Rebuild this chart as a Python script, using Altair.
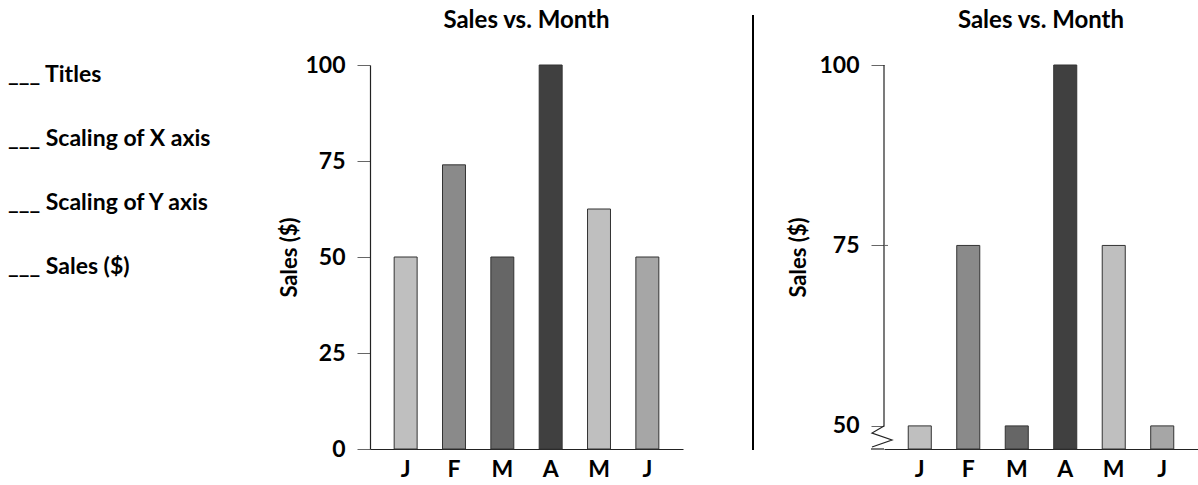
import altair as alt
import pandas as pd

# ---- data ----
months = ["Jan", "Feb", "Mar", "Apr", "May", "Jun"]
sales_left = [50, 74, 50, 100, 62.5, 50]
sales_right = [50, 75, 50, 100, 75, 50]
bar_colors = ["#bfbfbf", "#8a8a8a", "#666666", "#404040", "#bfbfbf", "#a6a6a6"]
checklist = ["Titles", "Scaling of X axis", "Scaling of Y axis", "Sales ($)"]
chart_title = "Sales vs. Month"
y_title = "Sales ($)"
left_ticks = [0, 25, 50, 75, 100]
right_ticks = [50, 75, 100]
right_floor = 46.8  # value at the broken baseline of the right chart

FONT = "Lato"
FS = 23
W, H = 313, 384

df_left = pd.DataFrame({"month": months, "sales": sales_left, "color": bar_colors})
df_right = pd.DataFrame({"month": months, "sales": sales_right, "color": bar_colors,
                         "base": [right_floor] * len(months)})

x_scale = alt.Scale(paddingInner=0.525, paddingOuter=0.5)
x_axis = alt.Axis(title=None, labelExpr="substring(datum.label, 0, 1)", ticks=False,
                  labelAngle=0, labelFont=FONT, labelFontSize=FS, labelFontWeight="bold",
                  labelColor="black", labelPadding=9, domainColor="#222222", domainWidth=1.2)


def y_axis(values, pad, show_domain=True):
    return alt.Axis(values=values, title=y_title, grid=False, tickSize=13,
                    tickColor="#666666", domain=show_domain, domainColor="#222222",
                    domainWidth=1.2, labelPadding=12,
                    labelFont=FONT, labelFontSize=FS, labelFontWeight="bold", labelColor="black",
                    titleFont=FONT, titleFontSize=FS - 1, titleFontWeight="bold",
                    titleColor="black", titlePadding=pad)


def title_layer(w):
    return alt.Chart(alt.Data(values=[{"t": chart_title}])).mark_text(
        align="center", baseline="alphabetic", font=FONT, fontSize=24, fontWeight="bold",
        color="black",
    ).encode(text="t:N", x=alt.value(w / 2), y=alt.value(-37))


# ---- left chart ----
left_bars = alt.Chart(df_left).mark_bar(stroke="#333333", strokeWidth=1).encode(
    x=alt.X("month:N", sort=months, scale=x_scale, axis=x_axis),
    y=alt.Y("sales:Q", scale=alt.Scale(domain=[0, 100], nice=False),
            axis=y_axis(left_ticks, 3)),
    color=alt.Color("color:N", scale=None),
)

list_text = alt.Chart(alt.Data(values=[{"k": 0}])).mark_text(
    text=["___ " + s for s in checklist], align="left", baseline="middle",
    font=FONT, fontSize=FS, fontWeight="bold", lineHeight=64, color="black",
).encode(x=alt.value(-362), y=alt.value(10))

left = alt.layer(left_bars, list_text, title_layer(W)).properties(width=W, height=H)

# ---- right chart ----
right_bars = alt.Chart(df_right).mark_bar(stroke="#333333", strokeWidth=1).encode(
    x=alt.X("month:N", sort=months, scale=x_scale, axis=x_axis),
    y=alt.Y("sales:Q", scale=alt.Scale(domain=[right_floor, 100], nice=False, zero=False),
            axis=y_axis(right_ticks, 8, show_domain=False)),
    y2=alt.Y2("base:Q"),
    color=alt.Color("color:N", scale=None),
)

axis_line = alt.Chart(alt.Data(values=[{"top": 100, "bottom": 50}])).mark_rule(
    color="#222222", strokeWidth=1.2
).encode(x=alt.value(0), y=alt.Y("top:Q"), y2="bottom:Q")

# small inner part of the 75 tick (crosses the axis in the reference)
tick75 = alt.Chart(alt.Data(values=[{"v": 75}])).mark_rule(
    color="#666666", strokeWidth=1
).encode(x=alt.value(0), x2=alt.value(4), y=alt.Y("v:Q"))

# axis break zigzag (decoration), pixel offsets from the axis
zig = alt.Chart(alt.Data(values=[
    {"i": 0, "px": 0, "py": 361}, {"i": 1, "px": -12, "py": 368},
    {"i": 2, "px": 8, "py": 375}, {"i": 3, "px": -12, "py": 382},
])).mark_line(color="#222222", strokeWidth=1.2).encode(
    x=alt.X("px:Q", scale=None), y=alt.Y("py:Q", scale=None), order="i:Q")

base_ext = alt.Chart(alt.Data(values=[{"k": 0}])).mark_rule(color="#222222", strokeWidth=1.2).encode(
    x=alt.value(-13), x2=alt.value(0), y=alt.value(H))

separator = alt.Chart(alt.Data(values=[{"k": 0}])).mark_rule(color="black", strokeWidth=2).encode(
    x=alt.value(-131), y=alt.value(-50), y2=alt.value(385))

right = alt.layer(right_bars, axis_line, tick75, zig, base_ext, separator,
                  title_layer(W + 1)).properties(width=W + 1, height=H)

chart = alt.hconcat(left, right, spacing=201, bounds="flush").properties(
    padding={"left": 8, "top": 9, "right": 0, "bottom": 0},
    background="white",
).configure_view(stroke=None)

chart.save("out.html", embed_options={"renderer": "svg", "actions": False})
